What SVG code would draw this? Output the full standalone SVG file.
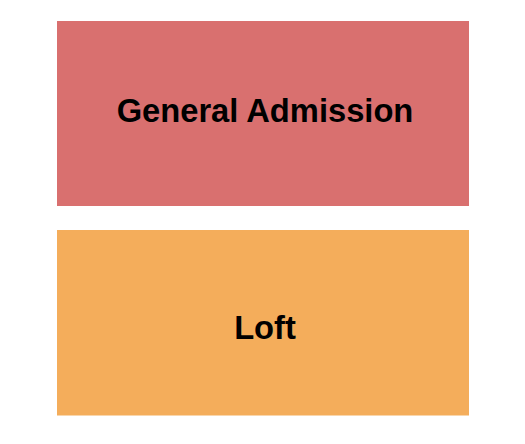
<svg xmlns="http://www.w3.org/2000/svg" width="525" height="444" viewBox="0 0 525 444">
<style>
.lbl{font-family:"Liberation Sans",Arial,sans-serif;font-weight:bold;font-size:32.7px;fill:#000;text-anchor:middle}
</style>
<rect width="525" height="444" fill="#fff"/>
<g id="general-admission">
<rect x="57" y="21" width="412" height="185" fill="#D9706F"/>
<text class="lbl" x="265" y="121.5">General Admission</text>
</g>
<g id="loft">
<rect x="57" y="230" width="412" height="185.5" fill="#F4AD5B"/>
<text class="lbl" x="265" y="338.5">Loft</text>
</g>
<g id="connectors"/>
</svg>
